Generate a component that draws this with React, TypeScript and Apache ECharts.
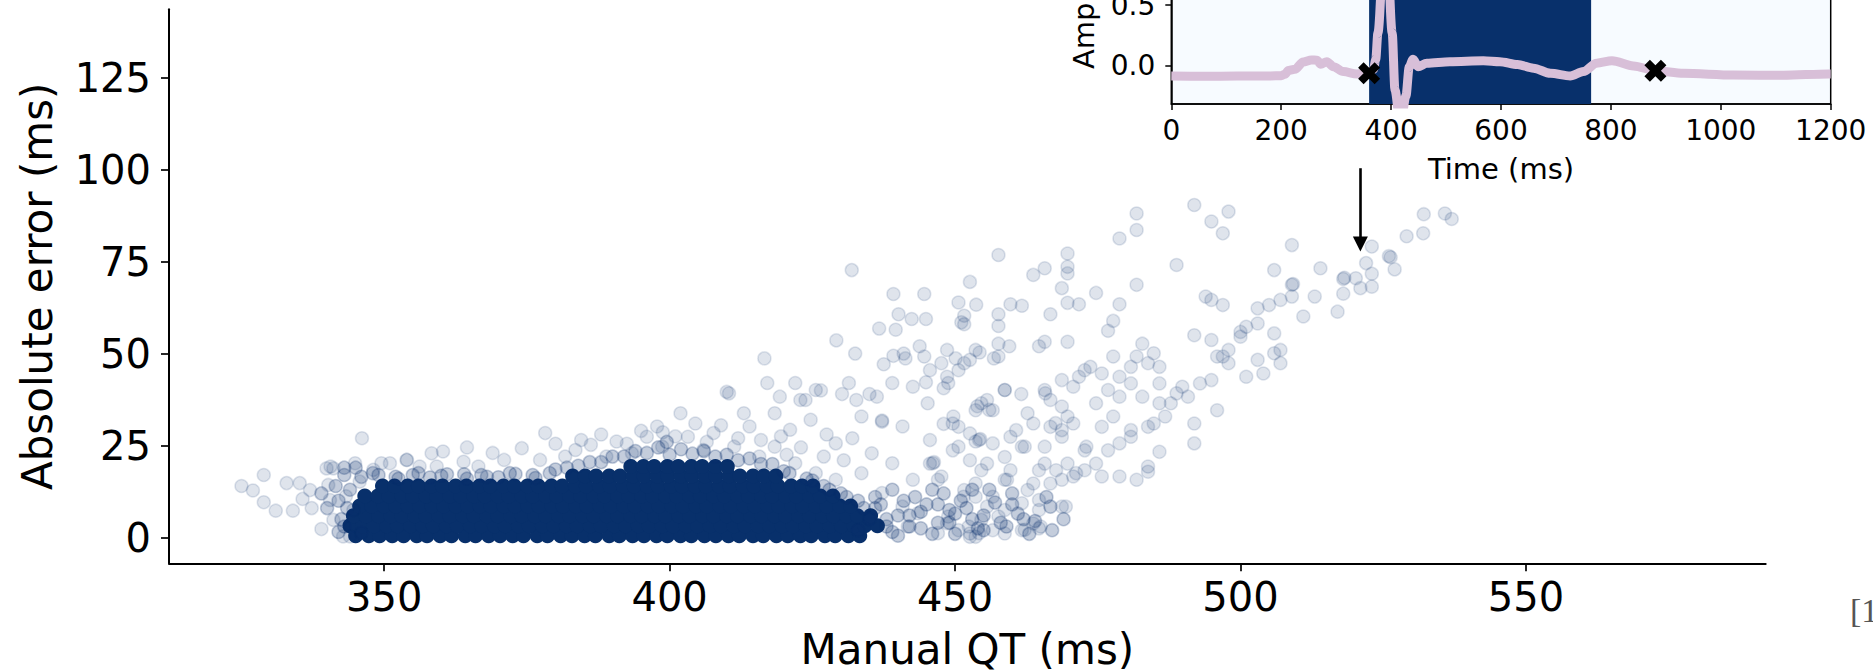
import React, { useEffect, useRef } from "react";
import * as echarts from "echarts";

// ---------------- main scatter: axes ----------------
const xTicks = [350, 400, 450, 500, 550];
const yTicks = [0, 25, 50, 75, 100, 125];

// dense core of the cloud (rows of Manual QT readings at a given absolute error)
const coreRowY = [0.5, 3.2, 5.9, 8.6, 11.3, 14.0, 16.7, 19.3];
const coreRowX = [
  [345.0, 347.3, 349.2, 351.4, 353.4, 355.7, 357.5, 359.8, 361.8, 364.2, 366.0, 368.3, 370.3, 372.5, 374.4, 376.8, 378.6, 380.9, 382.9, 385.1, 387.0, 389.4, 391.2, 393.5, 395.5, 397.7, 399.6, 401.9, 403.8, 406.1, 408.1, 410.3, 412.2, 414.6, 416.4, 418.7, 420.7, 422.9, 424.8, 427.2, 429.0, 431.3, 433.3],
  [344.0, 346.2, 348.2, 350.4, 352.3, 354.6, 356.7, 358.6, 360.9, 362.8, 365.1, 367.1, 369.3, 371.2, 373.5, 375.4, 377.7, 379.7, 381.9, 383.8, 386.1, 388.0, 390.3, 392.3, 394.5, 396.4, 398.7, 400.6, 402.9, 404.9, 407.1, 409.0, 411.3, 413.2, 415.5, 417.5, 419.7, 421.6, 423.9, 425.8, 428.1, 430.1, 432.3, 434.2, 436.4],
  [344.6, 346.8, 349.0, 351.2, 353.1, 355.4, 357.3, 359.6, 361.5, 363.8, 365.7, 368.0, 369.9, 372.2, 374.1, 376.4, 378.3, 380.6, 382.5, 384.8, 386.7, 389.0, 390.9, 393.2, 395.1, 397.4, 399.3, 401.6, 403.5, 405.8, 407.7, 410.0, 411.9, 414.2, 416.1, 418.4, 420.3, 422.6, 424.5, 426.8, 428.7, 431.0, 432.9, 435.2],
  [345.7, 347.8, 350.0, 352.0, 354.2, 356.2, 358.4, 360.4, 362.6, 364.6, 366.8, 368.7, 371.0, 372.9, 375.2, 377.1, 379.4, 381.3, 383.6, 385.5, 387.8, 389.7, 392.0, 393.9, 396.2, 398.1, 400.4, 402.3, 404.6, 406.5, 408.8, 410.7, 413.0, 414.9, 417.2, 419.1, 421.4, 423.3, 425.6, 427.5, 429.8, 431.7],
  [346.6, 348.9, 350.8, 353.1, 355.0, 357.3, 359.2, 361.5, 363.4, 365.7, 367.6, 369.9, 371.8, 374.1, 376.0, 378.3, 380.2, 382.5, 384.4, 386.7, 388.6, 390.9, 392.8, 395.1, 397.0, 399.3, 401.2, 403.5, 405.4, 407.7, 409.6, 411.9, 413.8, 416.1, 418.0, 420.3, 422.2, 424.5, 426.4, 428.6],
  [349.7, 351.8, 354.1, 356.0, 358.3, 360.2, 362.5, 364.4, 366.7, 368.6, 370.9, 372.8, 375.1, 377.0, 379.3, 381.2, 383.5, 385.4, 387.7, 389.6, 391.9, 393.8, 396.1, 398.0, 400.3, 402.2, 404.5, 406.4, 408.7, 410.6, 412.9, 414.8, 417.1, 419.0, 421.3, 423.2, 425.1],
  [383.0, 385.2, 387.1, 389.4, 391.3, 393.6, 395.5, 397.8, 399.7, 402.0, 403.9, 406.2, 408.1, 410.4, 412.3, 414.6, 416.5, 418.6],
  [393.2, 395.4, 397.3, 399.6, 401.5, 403.8, 405.7, 408.0, 410.1],
];

// fringe of the core (medium density)
const midPts = [
  [343, 17], [345, 19], [348, 17.5], [352, 16.5], [356, 17.5], [360, 16.8], [364, 17.2], [368, 16.5], [372, 17.5], [376, 17],
  [380, 18.5], [384, 19.5], [388, 20.5], [392, 22], [396, 23], [400, 22.5], [404, 22.8], [408, 22], [412, 21], [416, 20],
  [420, 18], [424, 16], [427, 14], [430, 12], [433, 10], [436, 8], [438, 5], [439, 1.5], [441, 10], [442, 6],
  [444, 2.5], [445, 9], [446, 13], [447, 4], [449, 7.5], [450, 1], [451, 10], [453, 5], [455, 2], [456, 13],
  [458, 4], [460, 9], [462, 5], [342, 10], [342.5, 5], [341.5, 14], [342, 1.5], [340, 8], [339, 12], [343, 3],
  [346, 16.5], [349, 17], [352.5, 16], [355, 17], [358, 16.3], [361, 17.2], [364.5, 16], [367, 17], [370, 16.4], [373, 17.3],
  [376.5, 16.2], [379, 17.5], [382, 19], [386, 20.5], [390, 22], [394, 23.5], [398, 24.5], [399.5, 26], [402, 24], [406, 23.5],
  [410, 22.5], [414, 21.5], [418, 20], [421, 17.5], [425, 15.5], [428, 13], [431, 11], [434, 8], [436, 11], [438, 3],
  [440, 6], [433, 2], [435, 5], [437, 9], [439, 13], [440, 0.5], [442, 3], [443, 11], [444, 7], [446, 1],
  [447, 9], [448, 12], [449, 4], [450, 6.5], [452, 8], [453, 13], [454, 2.5], [455, 6], [457, 9.5], [459, 3],
  [460, 12], [461, 6.5], [463, 1], [464, 4.5], [466, 11], [467, 2], [469, 5], [343.5, 8], [344, 13], [343, 19],
];

// individual, well separated measurements
const sparsePts = [
  // left tail
  [325.0, 14.0], [327.0, 12.8], [328.9, 17.0], [328.9, 9.6], [331.0, 7.3], [332.9, 14.8], [335.2, 14.8], [334.0, 7.3], [335.7, 10.5], [337.0, 12.9],
  [337.3, 8.0], [339.0, 2.3], [339.9, 18.8], [341.1, 18.8], [340.2, 14.3], [341.1, 4.8], [340.5, 10.2], [342.8, 0.3], [344.0, 0.3], [346.1, 27.0],
  [344.9, 20.2], [345.7, 15.2], [343.3, 11.2], [344.6, 7.5], [346.0, 1.2], [348.1, 18.4], [351.0, 20.2], [353.9, 21.1], [356.2, 19.3], [358.3, 22.9], [359.2, 19.3],
  // above the core
  [340.6, 19.3], [349.5, 20.2], [354, 21.1], [360.3, 23.4], [363.9, 20.6], [366.5, 19.3], [371, 21.1], [374.1, 24.3], [377.3, 21.1], [378.2, 28.4],
  [381.7, 22], [383.5, 23.8], [386.2, 25.2], [388.9, 22], [390.7, 26.1], [393.4, 22.9], [396, 27.4], [397.8, 30.2], [398.7, 24.7], [398.8, 28.6],
  [401.9, 33.8], [403.2, 27.4], [405.9, 23.8], [407.7, 28.4], [410.4, 39.2], [411.3, 24.7], [413, 33.8], [414, 30.2], [415.7, 22], [417.1, 42],
  [418.4, 33.8], [418.4, 24.7], [419.3, 38.3], [421.1, 29.3], [422, 42], [422, 20.2], [423.8, 37.4], [424.7, 32], [425.6, 40.1], [425.6, 17.5],
  [429.1, 25.6], [429.1, 15.7], [431.4, 42], [432.7, 37.4], [433.6, 32.9], [433.6, 17.5], [435.4, 22.9], [436.3, 38.3], [437.2, 31.5], [437.2, 31.8],
  [437.2, 12.1], [439, 42], [439, 20.2], [440.8, 30.2], [440.8, 8.4], [441.7, 3], [442.6, 41], [442.6, 15.7], [443.5, 6.6], [445.2, 36.5],
  [446.1, 20.2], [446.3, 20.5], [447, 15.7], [447, 1.2], [448.8, 42], [448.8, 5.7], [449.7, 32.9], [450.6, 24.7], [451.5, 11.1], [452.4, 3],
  [454.2, 26.5], [454.4, 26.8], [454.2, 1.2], [456, 34.7], [458.7, 40.1], [459.1, 15.7], [462.2, 24.7], [462.2, 2.1], [465, 3], [465.8, 39.2],
  [466.7, 8.4], [467.6, 31.1], [469.4, 8.4], [471.2, 17.5], [473, 24.7],
  [384.5, 26.5], [388, 28], [392.5, 25.5], [395, 29], [401, 27.5], [404.5, 31], [406.5, 26], [409, 30.5], [412, 27], [416, 26.5],
  [419.5, 27.5], [420.5, 22.5], [427.5, 28], [430.5, 21], [432, 27], [427, 22], [423, 24.5], [380, 25.5], [369, 23], [364.5, 24.5],
  // 400-465 upper region
  [431.9, 72.7], [416.6, 48.7], [410, 39.6], [429.2, 53.6], [426.5, 40.0], [422.9, 37.4], [430.2, 39.0], [435, 39.0], [432.5, 50.0], [437.5, 47.1],
  [440.1, 60.7], [436.7, 56.8], [441.3, 48.7], [443.8, 52], [444.9, 42.2], [448, 40.6], [451.1, 58.5], [450.1, 48.7], [453.7, 63.3], [454.3, 50.3],
  [456.8, 48.7], [459.5, 52], [464.7, 52], [461.6, 39], [453.9, 35.7], [448, 30.9], [439.2, 66.2], [444.9, 59.4], [442.4, 59.4], [439.6, 56.5], [439.2, 49.4],
  // upper-left branch of the V
  [491.9, 90.4], [497.9, 88.6], [494.9, 85.9], [496.9, 82.7], [481.8, 88.1], [481.8, 83.6], [478.8, 81.3], [469.7, 77.2], [469.7, 73.6], [469.7, 71.8],
  [465.7, 73.2], [463.7, 71.4], [457.6, 76.8], [452.6, 69.5], [468.7, 67.8], [474.7, 66.5], [469.7, 63.8], [471.7, 63.4], [481.8, 68.7], [488.8, 74.1],
  [478.8, 63.4], [477.7, 58.9], [476.8, 56.2], [466.7, 60.7], [461.7, 63], [459.7, 63.4], [457.6, 60.7], [457.6, 57.5], [451.6, 58], [450.6, 63.9],
  [444.6, 66.2], [451.6, 60.3], [453.6, 51], [457.6, 52.7], [457.6, 49.2], [452.6, 48.3], [451.6, 47.4], [465.7, 53.2], [469.7, 53.2], [441, 50],
  [444.6, 49.2], [448.6, 51], [447.6, 47.4], [448.6, 43.7], [450.6, 45.5], [445.6, 45.5], [458.7, 40.1], [455.6, 37.4], [454.6, 36.5], [453.6, 34.6],
  [456.6, 34.6], [462.7, 33.8], [463.7, 31], [460.7, 29.2], [459.7, 27.4], [461.7, 24.7], [456.6, 25.6], [453.6, 26.1], [452.6, 28.3], [450.6, 30.1],
  [449.6, 31], [445.6, 26.5], [445.6, 20.1], [447.6, 16.6], [449.6, 23.7], [452.6, 21], [454.6, 18.3], [455.6, 20.1], [458.7, 21.9], [459.7, 18.3],
  [458.7, 15.7], [453.6, 14.7], [451.6, 12.9], [453.6, 11.1], [456.6, 11.1], [455.6, 8.4], [458.7, 7.5], [457.6, 5.7], [454.6, 4.8], [452.6, 0.2], [448.6, 3.9],
  // right branch of the V
  [535.8, 88.1], [537, 86.6], [532.1, 87.9], [532, 82.7], [529.1, 81.9], [523, 79.1], [526, 76.5], [526.3, 76.2], [527, 72.9], [523, 71.7],
  [522, 74.6], [520.2, 70.5], [518, 70.3], [518.2, 70.6], [521, 67.8], [523, 68.2], [518, 66.3], [514, 73.2], [517, 61.4], [511, 60.1],
  [509, 79.5], [505.9, 72.7], [509, 68.7], [509.2, 68.9], [509, 65.5], [507, 64.6], [513, 65.5], [505, 63.2], [503, 62.3], [501, 57.3],
  [500, 55.9], [503, 58.2], [496.9, 63.2], [494.9, 64.6], [493.9, 65.5], [497.9, 51], [495.9, 49.2], [500, 54.6], [494.9, 53.7], [491.9, 55],
  [505.9, 55.5], [507, 51], [507, 47.4], [505.9, 50.1], [503, 48.3], [501, 43.7], [504, 44.6], [496.9, 49.2], [497.9, 47.4], [494.9, 42.8],
  [492.9, 41.9], [489.8, 41], [487.8, 36.5], [490.8, 38.3], [495.9, 34.6], [491.9, 31], [491.9, 25.6], [488.8, 39.2], [485.8, 41.9], [485.8, 46.4],
  [482.8, 52.7], [481.8, 49.2], [480.8, 46.4], [483.8, 47.4], [484.8, 50.1], [480.8, 41.9], [482.8, 38.3], [485.8, 36.5], [486.8, 32.9], [484.8, 31],
  [483.8, 30.1], [480.8, 27.4], [485.8, 23.3], [483.8, 19.3], [481.8, 15.7], [483.8, 17.9], [478.8, 38.3], [476.8, 40.1], [474.7, 36.5], [477.7, 32.9],
  [475.7, 30.1], [478.8, 25.6], [476.8, 23.7], [475.7, 16.6], [478.8, 16.6], [472.7, 23.7], [472.7, 18.3], [474.7, 20.1], [480.8, 29.2], [472.7, 45.5],
  [473.7, 46.4], [475.7, 44.6], [477.7, 49.2], [478.8, 43.7], [470.7, 41], [471.7, 43.7], [468.7, 42.8], [465.7, 40.1], [466.7, 37.4], [468.7, 35.6],
  [469.7, 32.9], [470.7, 31], [468.7, 29.2], [466.7, 30.1], [468.7, 27.4], [465.7, 24.7], [465.7, 20.1], [467.7, 18.3], [468.7, 15.7], [469.7, 20.1],
  [470.7, 16.6], [466.7, 14.7], [464.7, 18.3], [463.7, 14.7], [464.7, 10.2], [464.7, 7.5], [466.7, 8.4], [468.7, 8.4], [462.7, 12.9], [461.7, 9.3],
  [463.7, 3.8], [464.7, 2.5], [461.7, 2], [458.7, 1.1], [456.6, 2], [453.6, 0.2], [452.6, 1.1], [450.6, 2],
];

// annotation arrow (data coordinates of the main chart)
const arrowFrom = [521, 100.4];
const arrowTo = [521, 79.8];

// ---------------- inset ECG ----------------
const insetYTicks = [0, 0.5, 1.0];
const ecgTimes = [0, 60, 120, 180, 200, 207, 213, 225, 240, 255, 265, 272, 283, 295, 313, 338, 360, 368, 372, 376, 390, 402, 407, 417, 427, 433, 440, 449, 465, 507, 568, 598, 630, 659, 690, 726, 750, 774, 802, 841, 881, 932, 1023, 1114, 1196, 1200];
const ecgAmps = [-0.085, -0.087, -0.086, -0.085, -0.083, -0.07, -0.04, -0.03, 0.03, 0.047, 0.045, 0.012, 0.033, -0.008, -0.049, -0.068, -0.062, -0.03, 0.05, 0.27, 1.3, 0.27, -0.2, -0.5, -0.25, -0.01, 0.053, -0.008, 0.02, 0.033, 0.041, 0.033, 0.01, -0.021, -0.063, -0.085, -0.049, 0.02, 0.041, -0.002, -0.041, -0.063, -0.077, -0.079, -0.068, -0.068];
const qtWindow = [360, 764];
const markerTimes = [360, 881];
const markerAmps = [-0.062, -0.041];

const NAVY = "#08306b";
const FONT = "DejaVu Sans";
const X_SYMBOL = "path://M0,5 L5,0 L10,5 L15,0 L20,5 L15,10 L20,15 L15,20 L10,15 L5,20 L0,15 L5,10 Z";

export default function App() {
  const ref = useRef<HTMLDivElement>(null);
  useEffect(() => {
    if (!ref.current) return;
    const chart = echarts.init(ref.current, undefined, { renderer: "svg" });
    const corePts = coreRowX.flatMap((xs, i) => xs.map((x) => [x, coreRowY[i]]));
    const ecg = ecgTimes.map((t, i) => [t, ecgAmps[i]]);
    const markers = markerTimes.map((t, i) => [t, markerAmps[i]]);
    const fmtInt = (v: number) => String(Math.round(v));

    chart.setOption({
      animation: false,
      textStyle: { fontFamily: FONT },
      graphic: [
        {
          type: "text",
          x: 1850,
          y: 610,
          style: { text: "[1", font: '34px "Liberation Serif"', fill: "#555555", verticalAlign: "middle" },
        },
      ],
      grid: [
        { left: 169, top: 9.3, width: 1596.7, height: 554, outerBoundsMode: "none" },
        {
          left: 1171.3, top: -114.6, width: 659.4, height: 218.6, show: true,
          backgroundColor: "#f7fbff", borderColor: "#000", borderWidth: 1.5, outerBoundsMode: "none",
        },
      ],
      xAxis: [
        {
          gridIndex: 0, type: "value", min: 312.3, max: 592,
          name: "Manual QT (ms)", nameLocation: "middle", nameGap: 65,
          nameTextStyle: { fontSize: 42, color: "#000", fontFamily: FONT },
          axisLine: { onZero: false, lineStyle: { color: "#000", width: 2 } },
          axisTick: { show: true, length: 8, lineStyle: { color: "#000", width: 1.7 }, customValues: xTicks },
          axisLabel: { fontSize: 40, color: "#000", margin: 14, customValues: xTicks, formatter: fmtInt, fontFamily: FONT },
          splitLine: { show: false },
        },
        {
          gridIndex: 1, type: "value", min: 0, max: 1200, interval: 200,
          name: "Time (ms)", nameLocation: "middle", nameGap: 50,
          nameTextStyle: { fontSize: 29, color: "#000", fontFamily: FONT },
          axisLine: { onZero: false, lineStyle: { color: "#000", width: 1.5 } },
          axisTick: { show: true, length: 6, lineStyle: { color: "#000", width: 1.5 } },
          axisLabel: { fontSize: 28, color: "#000", margin: 12, showMinLabel: true, showMaxLabel: true, formatter: fmtInt, fontFamily: FONT },
          splitLine: { show: false },
        },
      ],
      yAxis: [
        {
          gridIndex: 0, type: "value", min: -7, max: 143.6,
          name: "Absolute error (ms)", nameLocation: "middle", nameGap: 111,
          nameTextStyle: { fontSize: 42, color: "#000", fontFamily: FONT },
          axisLine: { onZero: false, lineStyle: { color: "#000", width: 2 } },
          axisTick: { show: true, length: 8, lineStyle: { color: "#000", width: 1.7 }, customValues: yTicks },
          axisLabel: { fontSize: 40, color: "#000", margin: 18, customValues: yTicks, formatter: fmtInt, fontFamily: FONT },
          splitLine: { show: false },
        },
        {
          gridIndex: 1, type: "value", min: -0.316, max: 1.486,
          name: "Amplitude", nameLocation: "middle", nameGap: 73,
          nameTextStyle: { fontSize: 29, color: "#000", fontFamily: FONT },
          axisLine: { onZero: false, lineStyle: { color: "#000", width: 1.5 } },
          axisTick: { show: true, length: 6, lineStyle: { color: "#000", width: 1.5 }, customValues: insetYTicks },
          axisLabel: { fontSize: 28, color: "#000", margin: 16, customValues: insetYTicks, formatter: (v: number) => v.toFixed(1), fontFamily: FONT },
          splitLine: { show: false },
        },
      ],
      series: [
        {
          name: "core", type: "scatter", xAxisIndex: 0, yAxisIndex: 0, data: corePts, symbolSize: 15,
          itemStyle: { color: NAVY, opacity: 1, borderWidth: 0 },
          silent: true,
        },
        {
          name: "mid", type: "scatter", xAxisIndex: 0, yAxisIndex: 0, data: midPts, symbolSize: 13,
          itemStyle: { color: "rgba(8,48,107,0.24)", borderColor: "rgba(8,48,107,0.24)", borderWidth: 1.5, opacity: 1 },
          silent: true,
        },
        {
          name: "sparse", type: "scatter", xAxisIndex: 0, yAxisIndex: 0, data: sparsePts, symbolSize: 13,
          itemStyle: { color: "rgba(8,48,107,0.13)", borderColor: "rgba(8,48,107,0.13)", borderWidth: 1.5, opacity: 1 },
          silent: true,
          markLine: {
            silent: true, animation: false,
            symbol: ["none", "triangle"], symbolSize: 15,
            label: { show: false },
            lineStyle: { color: "#000", width: 2.6, type: "solid", opacity: 1 },
            data: [[{ coord: arrowFrom }, { coord: arrowTo }]],
          },
        },
        {
          name: "ecg", type: "line", xAxisIndex: 1, yAxisIndex: 1, data: ecg,
          showSymbol: false, smooth: 0.3, smoothMonotone: "x",
          lineStyle: { color: "#d8bfd8", width: 9 },
          silent: true,
          markArea: {
            silent: true,
            itemStyle: { color: NAVY, opacity: 1 },
            data: [[{ xAxis: qtWindow[0] }, { xAxis: qtWindow[1] }]],
          },
        },
        {
          name: "qt", type: "scatter", xAxisIndex: 1, yAxisIndex: 1, data: markers,
          symbol: X_SYMBOL, symbolSize: 22, itemStyle: { color: "#000", opacity: 1 }, z: 10, silent: true,
        },
      ],
    });
    return () => chart.dispose();
  }, []);
  return (
    <div
      ref={ref}
      style={{ position: "absolute", left: 0, top: 0, width: 1873, height: 670, background: "#fff" }}
    />
  );
}
